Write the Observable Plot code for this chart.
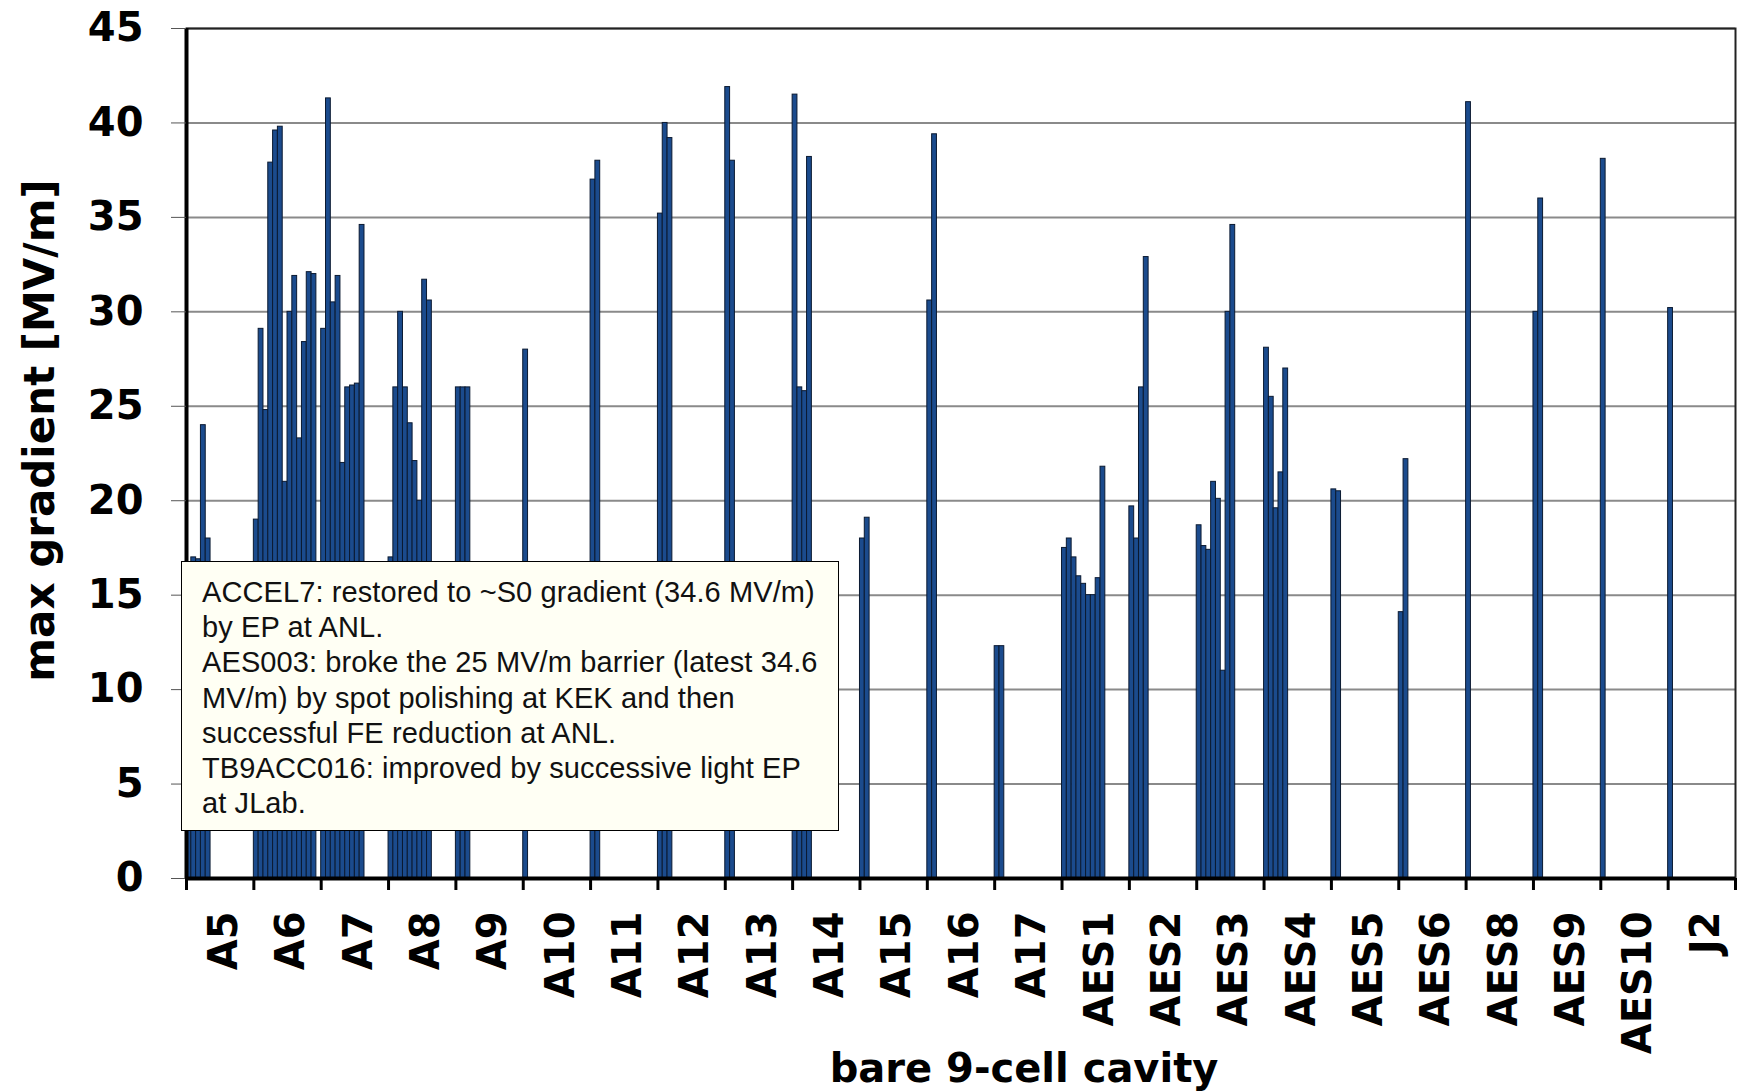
<!DOCTYPE html>
<html><head><meta charset="utf-8">
<script src="https://cdn.jsdelivr.net/npm/d3@7"></script>
<script src="https://cdn.jsdelivr.net/npm/@observablehq/plot@0.6"></script>
<style>
body{margin:0;background:#fff;}
#wrap{position:relative;width:1742px;height:1092px;overflow:hidden;}
#note{position:absolute;left:181px;top:561px;width:658px;height:270px;background:#fffff4;border:1.5px solid #000;font-family:"Liberation Sans",Arial,sans-serif;font-size:29px;letter-spacing:0.1px;line-height:35.2px;padding:13px 0 0 20px;box-sizing:border-box;white-space:nowrap;color:#111;}
</style></head><body><div id="wrap"></div>
<script>
// categories (bare 9-cell cavities)
const categories = ["A5","A6","A7","A8","A9","A10","A11","A12","A13","A14","A15","A16","A17","AES1","AES2","AES3","AES4","AES5","AES6","AES8","AES9","AES10","J2"];
// max gradient per test [MV/m], in test order
const A5 = [16, 17, 16.9, 24, 18];
const A6 = [19, 29.1, 24.8, 37.9, 39.6, 39.8, 21, 30, 31.9, 23.3, 28.4, 32.1, 32];
const A7 = [29.1, 41.3, 30.5, 31.9, 22, 26, 26.1, 26.2, 34.6];
const A8 = [17, 26, 30, 26, 24.1, 22.1, 20, 31.7, 30.6];
const A9 = [26, 26, 26];
const A10 = [28];
const A11 = [37, 38];
const A12 = [35.2, 40, 39.2];
const A13 = [41.9, 38];
const A14 = [41.5, 26, 25.8, 38.2];
const A15 = [18, 19.1];
const A16 = [30.6, 39.4];
const A17 = [12.3, 12.3];
const AES1 = [17.5, 18, 17, 16, 15.6, 15, 15, 15.9, 21.8];
const AES2 = [19.7, 18, 26, 32.9];
const AES3 = [18.7, 17.6, 17.4, 21, 20.1, 11, 30, 34.6];
const AES4 = [28.1, 25.5, 19.6, 21.5, 27];
const AES5 = [20.6, 20.5];
const AES6 = [14.1, 22.2];
const AES8 = [41.1];
const AES9 = [30, 36];
const AES10 = [38.1];
const J2 = [30.2];
const gradients = [A5,A6,A7,A8,A9,A10,A11,A12,A13,A14,A15,A16,A17,AES1,AES2,AES3,AES4,AES5,AES6,AES8,AES9,AES10,J2];
const testSlots = 14; // max number of tests per cavity (series count)
const yTicks = [0,5,10,15,20,25,30,35,40,45];
const yLabel = "max gradient [MV/m]";
const xLabel = "bare 9-cell cavity";
const noteLines = [
  "ACCEL7: restored to ~S0 gradient (34.6 MV/m)",
  "by EP at ANL.",
  "AES003: broke the 25 MV/m barrier (latest 34.6",
  "MV/m) by spot polishing at KEK and then",
  "successful FE reduction at ANL.",
  "TB9ACC016: improved by successive light EP",
  "at JLab."
];

const bars = gradients.flatMap((vals, i) => vals.map((v, j) => ({cavity: categories[i], i, j, v})));
const font = "'DejaVu Sans', sans-serif";

const chart = Plot.plot({
  width: 1742, height: 1092,
  marginLeft: 186, marginRight: 7, marginTop: 28, marginBottom: 214,
  x: {domain: [0, categories.length], axis: null},
  y: {domain: [0, 45], axis: null},
  style: {background: "white", fontFamily: font, color: "black"},
  marks: [
    Plot.gridY(yTicks.filter(t => t > 0), {stroke: "#8a8a8a", strokeOpacity: 1, strokeWidth: 2}),
    Plot.rectY(bars, {
      x1: d => d.i + d.j / testSlots,
      x2: d => d.i + (d.j + 1) / testSlots,
      y1: 0, y2: "v",
      fill: "#1b4b8d", stroke: "#0b1a31", strokeWidth: 1
    }),
    Plot.frame({stroke: "#222", strokeWidth: 2}),
    Plot.ruleX([0], {stroke: "black", strokeWidth: 4}),
    Plot.ruleY([0], {stroke: "black", strokeWidth: 4}),
    Plot.axisY({ticks: yTicks, tickSize: 15, tickPadding: 28, fontSize: 40, fontWeight: "bold", fontFamily: font, stroke: "#555", label: null, tickFormat: d => String(d)}),
    Plot.axisX({ticks: d3.range(categories.length + 1), tickSize: 12, tickFormat: () => "", strokeWidth: 3, label: null}),
    Plot.text(categories, {text: d => d, x: (d, i) => i + 0.5, frameAnchor: "bottom", rotate: -90, textAnchor: "end", lineAnchor: "middle", dy: 33, dx: 4, fontSize: 40, fontWeight: "bold"}),
    Plot.text([yLabel], {text: d => d, frameAnchor: "left", textAnchor: "middle", lineAnchor: "middle", rotate: -90, dx: -146, dy: -23, fontSize: 42, fontWeight: "bold"}),
    Plot.text([xLabel], {text: d => d, frameAnchor: "bottom", textAnchor: "middle", lineAnchor: "middle", dx: 63, dy: 191, fontSize: 40, fontWeight: "bold"})
  ]
});
const wrap = document.getElementById("wrap");
wrap.appendChild(chart);
const note = document.createElement("div");
note.id = "note";
note.innerHTML = noteLines.map(s => s.replace(/&/g,"&amp;").replace(/</g,"&lt;")).join("<br>");
wrap.appendChild(note);
</script>
</body></html>
